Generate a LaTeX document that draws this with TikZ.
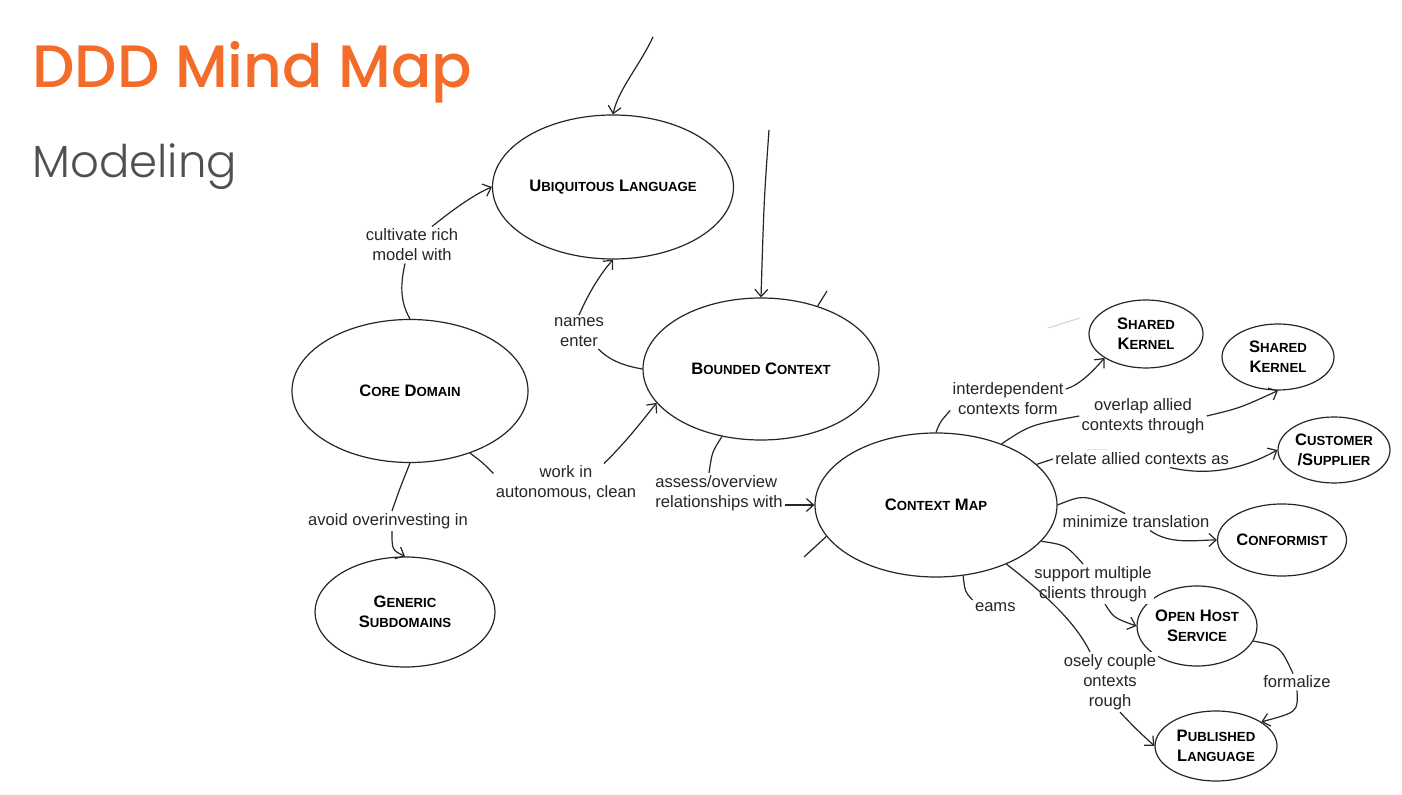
\documentclass[tikz,border=0pt]{standalone}
\usepackage{fontspec}
\setmainfont{Liberation Sans}
\newfontfamily\titlefont{Poppins Medium}
\newfontfamily\subtitlefont{Poppins Light}
\usetikzlibrary{%
  shapes.geometric,%
  arrows.meta,%
  calc%
}
\definecolor{ddorange}{HTML}{F36C2A}
\definecolor{ddgray}{HTML}{505050}
\newcommand{\smcap}[2]{#1{\fontsize{6.6}{10}\selectfont #2}}

\begin{document}
\begin{tikzpicture}[x=0.5pt,y=-0.5pt,
  concept/.style={ellipse,draw=black!85,line width=0.6pt,inner sep=0pt,align=center,
    font=\fontsize{8.3}{10}\selectfont\bfseries},
  lbl/.style={fill=white,inner sep=1pt,align=center,font=\fontsize{8.3}{10}\selectfont,text=black!85},
  link/.style={draw=black!85,line width=0.6pt},
  arr/.style={link,-{Straight Barb[length=3.6pt,width=6.5pt]}}]
\fill[white] (0,0) rectangle (1402,795);
\useasboundingbox (0,0) rectangle (1402,795);

\node[anchor=base west,inner sep=0pt,text=ddorange,font=\titlefont\fontsize{29.9}{36}\selectfont] (title) at (32,88) {DDD Mind Map};
\node[anchor=base west,inner sep=0pt,text=ddgray,font=\subtitlefont\fontsize{22.5}{28}\selectfont] (subtitle) at (32,178) {Modeling};

% concepts
\node[concept,minimum width=120.5pt,minimum height=72pt] (ul) at (613,187) {\smcap{U}{BIQUITOUS} \smcap{L}{ANGUAGE}};
\node[concept,minimum width=118pt,minimum height=71pt] (bc) at (761,369) {\smcap{B}{OUNDED} \smcap{C}{ONTEXT}};
\node[concept,minimum width=118pt,minimum height=71.5pt] (cd) at (410,391) {\smcap{C}{ORE} \smcap{D}{OMAIN}};
\node[concept,minimum width=90pt,minimum height=55pt] (gs) at (405,612) {\smcap{G}{ENERIC}\\\smcap{S}{UBDOMAINS}};
\node[concept,minimum width=121pt,minimum height=72pt] (cm) at (936,505) {\smcap{C}{ONTEXT} \smcap{M}{AP}};
\node[concept,minimum width=57pt,minimum height=34pt] (sk1) at (1146,334) {\smcap{S}{HARED}\\\smcap{K}{ERNEL}};
\node[concept,minimum width=56pt,minimum height=33pt] (sk2) at (1278,357) {\smcap{S}{HARED}\\\smcap{K}{ERNEL}};
\node[concept,minimum width=56pt,minimum height=33pt] (cs) at (1334,450) {\smcap{C}{USTOMER}\\/\smcap{S}{UPPLIER}};
\node[concept,minimum width=62pt,minimum height=36pt] (cf) at (1282,540) {\smcap{C}{ONFORMIST}};
\node[concept,minimum width=60pt,minimum height=40pt] (ohs) at (1197,626) {\smcap{O}{PEN} \smcap{H}{OST}\\\smcap{S}{ERVICE}};
\node[concept,minimum width=61pt,minimum height=35pt] (pl) at (1216,746) {\smcap{P}{UBLISHED}\\\smcap{L}{ANGUAGE}};

% labels
\node[lbl] (cult) at (412,245) {cultivate rich\\model with};
\node[lbl] (names) at (579,332) {names\\enter};
\node[lbl] (work) at (566,483) {work in\\autonomous, clean};
\node[lbl,anchor=west,align=left] (assess) at (653,493) {assess/overview\\relationships with};
\node[lbl] (avoid) at (388,521) {avoid overinvesting in};
\node[lbl] (interdep) at (1008,399) {interdependent\\contexts form};
\node[lbl] (overlap) at (1143,416) {overlap allied\\contexts through};
\node[lbl,anchor=west] (relate) at (1053,459) {relate allied contexts as};
\node[lbl] (minim) at (1136,522) {minimize translation};
\node[lbl] (support) at (1093,584) {support multiple\\clients through};
\node[lbl] (loose) at (1110,682) {osely couple\\ontexts\\rough};
\node[lbl,anchor=east] (eams) at (1018,607) {eams};
\node[lbl] (formal) at (1297,682) {formalize};

% loose ends
\coordinate (topA) at (653,37);
\coordinate (topB) at (769,130);
\coordinate (stubBC) at (827,291);
\coordinate (stubCM) at (804,557);

\draw[arr] (topA) .. controls (640,65) and (618,90) .. (ul.north);
\draw[arr] (topB) .. controls (764,200) .. (bc.north);
\draw[link] (bc.48) -- (stubBC);
\draw[link] (cm.196) -- (stubCM);

\draw[link] (cd.north) .. controls (399,300) and (401,282) .. ([xshift=-3.5pt]cult.south);
\draw[arr] ([xshift=10pt]cult.north) .. controls (455,208) and (475,194) .. (ul.west);
\draw[link] (bc.west) .. controls (625,366) and (610,361) .. ([xshift=-4pt]names.south east);
\draw[arr] (names.north) .. controls (590,290) and (602,272) .. (ul.south);
\draw[link] (cd.-46) .. controls (482,462) .. ([yshift=-5pt]work.north west);
\draw[arr] ([xshift=19pt]work.north) .. controls (628,440) and (646,416) .. (bc.198);
\draw[link] (bc.240) .. controls (712,452) .. ([xshift=-5pt]assess.north);
\draw[arr] (assess.east |- cm.west) -- (cm.west);
\draw[link] (cd.south) .. controls (400,488) .. ([xshift=2pt]avoid.north);
\draw[arr] ([xshift=2pt]avoid.south) .. controls (392,550) .. (gs.north);

\draw[link] (cm.north) .. controls (940,422) .. ([yshift=3.5pt]interdep.south west);
\draw[arr] ([yshift=5pt]interdep.east) .. controls (1080,385) and (1094,370) .. (sk1.210);
\draw[link] (cm.43) .. controls (1030,425) .. (overlap.west);
\draw[arr] (overlap.east) .. controls (1240,408) .. (sk2.south);
\draw[link] (cm.22) .. controls (1045,461) .. (relate.west);
\draw[arr] ($(relate.south west)+(117,0)$) .. controls (1215,478) and (1250,465) .. (cs.west);
\draw[link] (cm.east) .. controls (1085,494) .. ([xshift=-5.5pt]minim.north);
\draw[arr] ([xshift=7pt]minim.south) .. controls (1170,545) and (1195,540) .. (cf.west);
\draw[link] (cm.-19) .. controls (1066,545) .. ([xshift=-5pt]support.north);
\draw[arr] ([xshift=6pt]support.south) .. controls (1114,618) .. (ohs.west);
\draw[link] (cm.-40) .. controls (1050,598) and (1076,624) .. ([xshift=-10pt]loose.north);
\draw[arr] ([xshift=5pt]loose.south) .. controls (1135,728) .. (pl.west);
\draw[link] (cm.-69) .. controls (965,592) .. (eams.north west);
\draw[link] (ohs.-15) .. controls (1280,646) .. ([xshift=-2pt]formal.north);
\draw[arr] (formal.south) .. controls (1298,712) .. (pl.28);

% faint traces
\draw[gray!35,line width=0.5pt] (1048,328) -- (1080,318);
\draw[gray!20,line width=0.5pt] (1087,450) -- (1108,450);
\end{tikzpicture}
\end{document}
